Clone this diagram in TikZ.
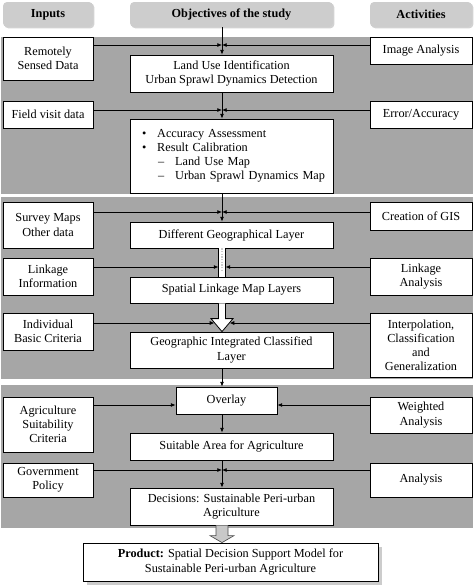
\documentclass[tikz,border=0pt]{standalone}
\usepackage{fontspec}
\setmainfont{Liberation Serif}
\usepackage{tikz}
\usetikzlibrary{positioning,calc,arrows.meta,shadows}

\definecolor{panelgray}{RGB}{166,166,166}
\definecolor{headgray}{RGB}{205,205,205}
\definecolor{arrowgray}{RGB}{200,200,200}

\tikzset{
  box/.style={draw, fill=white, line width=0.6pt, align=center, inner sep=1pt,
    font=\fontsize{9.2}{10.6}\selectfont},
  inbox/.style={box, minimum width=67.5pt},
  actbox/.style={box, minimum width=76.5pt},
  objbox/.style={box, minimum width=152.25pt},
  headbox/.style={fill=headgray, rounded corners=3pt, minimum height=18.75pt,
    drop shadow={shadow xshift=1pt, shadow yshift=-1pt, fill=gray!70},
    font=\fontsize{9.2}{10.6}\selectfont\bfseries},
  conn/.style={-{Latex[length=3.5pt,width=3pt]}, line width=0.6pt},
  panel/.style={fill=panelgray},
}

\begin{document}
\begin{tikzpicture}[x=0.75pt,y=0.75pt,yscale=-1,xscale=1]
\useasboundingbox (0,0) rectangle (474,587);

% grey bands
\fill[panel] (1,37) rectangle (473,194);
\fill[panel] (1,197) rectangle (473,379);
\fill[panel] (1,385) rectangle (473,528);

% column heads
\node[headbox, minimum width=67.5pt] (hin) at (48,14.5) {Inputs};
\node[headbox, minimum width=152.25pt] (hobj) at (231.5,14.5) {Objectives of the study};
\node[headbox, minimum width=76.5pt] (hact) at (421,14.5) {Activities};

% inputs
\node[inbox, minimum height=32.25pt] (rsd) at (48,58.5) {Remotely\\Sensed Data};
\node[inbox, minimum height=20.25pt] (fvd) at (48,114.5) {Field visit data};
\node[inbox, minimum height=34.5pt] (smo) at (48,225) {Survey Maps\\Other data};
\node[inbox, minimum height=27.75pt] (lki) at (48,276.5) {Linkage\\Information};
\node[inbox, minimum height=27.75pt] (ibc) at (48,331.5) {Individual\\Basic Criteria};
\node[inbox, minimum height=41.25pt] (asc) at (48,424.5) {Agriculture\\Suitability\\Criteria};
\node[inbox, minimum height=25.5pt] (gvp) at (48,480) {Government\\Policy};

% activities
\node[actbox, minimum height=20.25pt] (ima) at (421,50.5) {Image Analysis};
\node[actbox, minimum height=20.25pt] (era) at (421,114.5) {Error/Accuracy};
\node[actbox, minimum height=21pt] (cgis) at (421,216) {Creation of GIS};
\node[actbox, minimum height=27.75pt] (lka) at (421,276.5) {Linkage\\Analysis};
\node[actbox, minimum height=48pt] (icg) at (421,345) {Interpolation,\\Classification\\and\\Generalization};
\node[actbox, minimum height=27pt] (wta) at (421,415) {Weighted\\Analysis};
\node[actbox, minimum height=25.5pt] (anl) at (421,480) {Analysis};

% objectives
\node[objbox, minimum height=27.75pt] (lui) at (231.5,73.5) {Land Use Identification\\Urban Sprawl Dynamics Detection};
\node[objbox, minimum height=55.5pt, align=left, text width=148pt, inner xsep=2pt] (acc) at (231.5,156)
  {\hspace*{7pt}\makebox[11.25pt][l]{\textbullet}Accuracy Assessment\\
   \hspace*{7pt}\makebox[11.25pt][l]{\textbullet}Result Calibration\\
   \hspace*{19pt}\makebox[12.75pt][l]{--}Land Use Map\\
   \hspace*{19pt}\makebox[12.75pt][l]{--}Urban Sprawl Dynamics Map};
\node[objbox, minimum height=19.5pt] (dgl) at (231.5,235) {Different Geographical Layer};
\node[objbox, minimum height=19.5pt] (slm) at (231.5,290) {Spatial Linkage Map Layers};
\node[objbox, minimum height=27pt] (gic) at (231.5,350) {Geographic Integrated Classified\\Layer};
\node[box, minimum width=75.75pt, minimum height=20.25pt] (ovl) at (226.5,400.5) {Overlay};
\node[objbox, minimum height=20.25pt] (saa) at (231.5,446.5) {Suitable Area for Agriculture};
\node[objbox, minimum height=27.75pt] (dsa) at (231.5,506.5) {Decisions: Sustainable Peri-urban\\Agriculture};
\node[box, minimum width=221.25pt, minimum height=28.5pt,
  drop shadow={shadow xshift=3pt, shadow yshift=-3pt, fill=gray!80}] (prd) at (230.5,562)
  {\textbf{Product:} Spatial Decision Support Model for\\Sustainable Peri-urban Agriculture};

% spine and joints
\coordinate (sp) at (222,0);
\coordinate (j1) at (222,45);
\coordinate (j2) at (222,110);
\coordinate (j3) at (222,212);
\coordinate (j4l) at (218.5,267);
\coordinate (j4r) at (225.5,267);
\coordinate (j5l) at (214.4,323);
\coordinate (j5r) at (229.6,323);
\coordinate (j6) at (0,405);
\coordinate (j7) at (222,470);

% main flow
\draw[conn] (hobj.south -| sp) -- (lui.north -| sp);
\draw[conn] (lui.south -| sp) -- (acc.north -| sp);
\draw[conn] (acc.south -| sp) -- (dgl.north -| sp);
\draw[line width=0.6pt, double=white, double distance=4.4pt] (dgl.south -| sp) -- (slm.north -| sp);
\draw[gray!40, densely dotted, line width=1pt] (dgl.south -| sp) -- ($(slm.north -| sp)+(0,-5)$);
\fill[white] ($(slm.north -| sp)+(-2.5,-5)$) -- (slm.north -| sp) -- ($(slm.north -| sp)+(2.5,-5)$) -- cycle;
\draw[fill=white, line width=0.6pt] ($(slm.south -| sp)+(-3.5,0)$) |- ($(gic.north -| sp)+(-11,-13)$)
  -- (gic.north -| sp) -- ($(gic.north -| sp)+(11,-13)$) -| ($(slm.south -| sp)+(3.5,0)$);
\draw[conn] (gic.south -| sp) -- (ovl.north -| sp);
\draw[conn] (ovl.south -| sp) -- (saa.north -| sp);
\draw[conn] (saa.south -| sp) -- (dsa.north -| sp);
\draw[fill=arrowgray, draw=gray!60!black, line width=0.5pt]
  ($(dsa.south -| sp)+(-6,0)$) |- ($(prd.north -| sp)+(-12,-7)$) -- (prd.north -| sp)
  -- ($(prd.north -| sp)+(12,-7)$) -| ($(dsa.south -| sp)+(6,0)$);

% inputs in
\draw[conn] (rsd.east |- j1) -- (j1);
\draw[conn] (fvd.east |- j2) -- (j2);
\draw[conn] (smo.east |- j3) -- (j3);
\draw[conn] (lki.east |- j4l) -- (j4l);
\draw[conn] (ibc.east |- j5l) -- (j5l);
\draw[conn] (asc.east |- j6) -- (ovl.west |- j6);
\draw[conn] (gvp.east |- j7) -- (j7);

% activities in
\draw[conn] (ima.west |- j1) -- (j1);
\draw[conn] (era.west |- j2) -- (j2);
\draw[conn] (cgis.west |- j3) -- (j3);
\draw[conn] (lka.west |- j4r) -- (j4r);
\draw[conn] (icg.west |- j5r) -- (j5r);
\draw[conn] (wta.west |- j6) -- (ovl.east |- j6);
\draw[conn] (anl.west |- j7) -- (j7);

\end{tikzpicture}
\end{document}
